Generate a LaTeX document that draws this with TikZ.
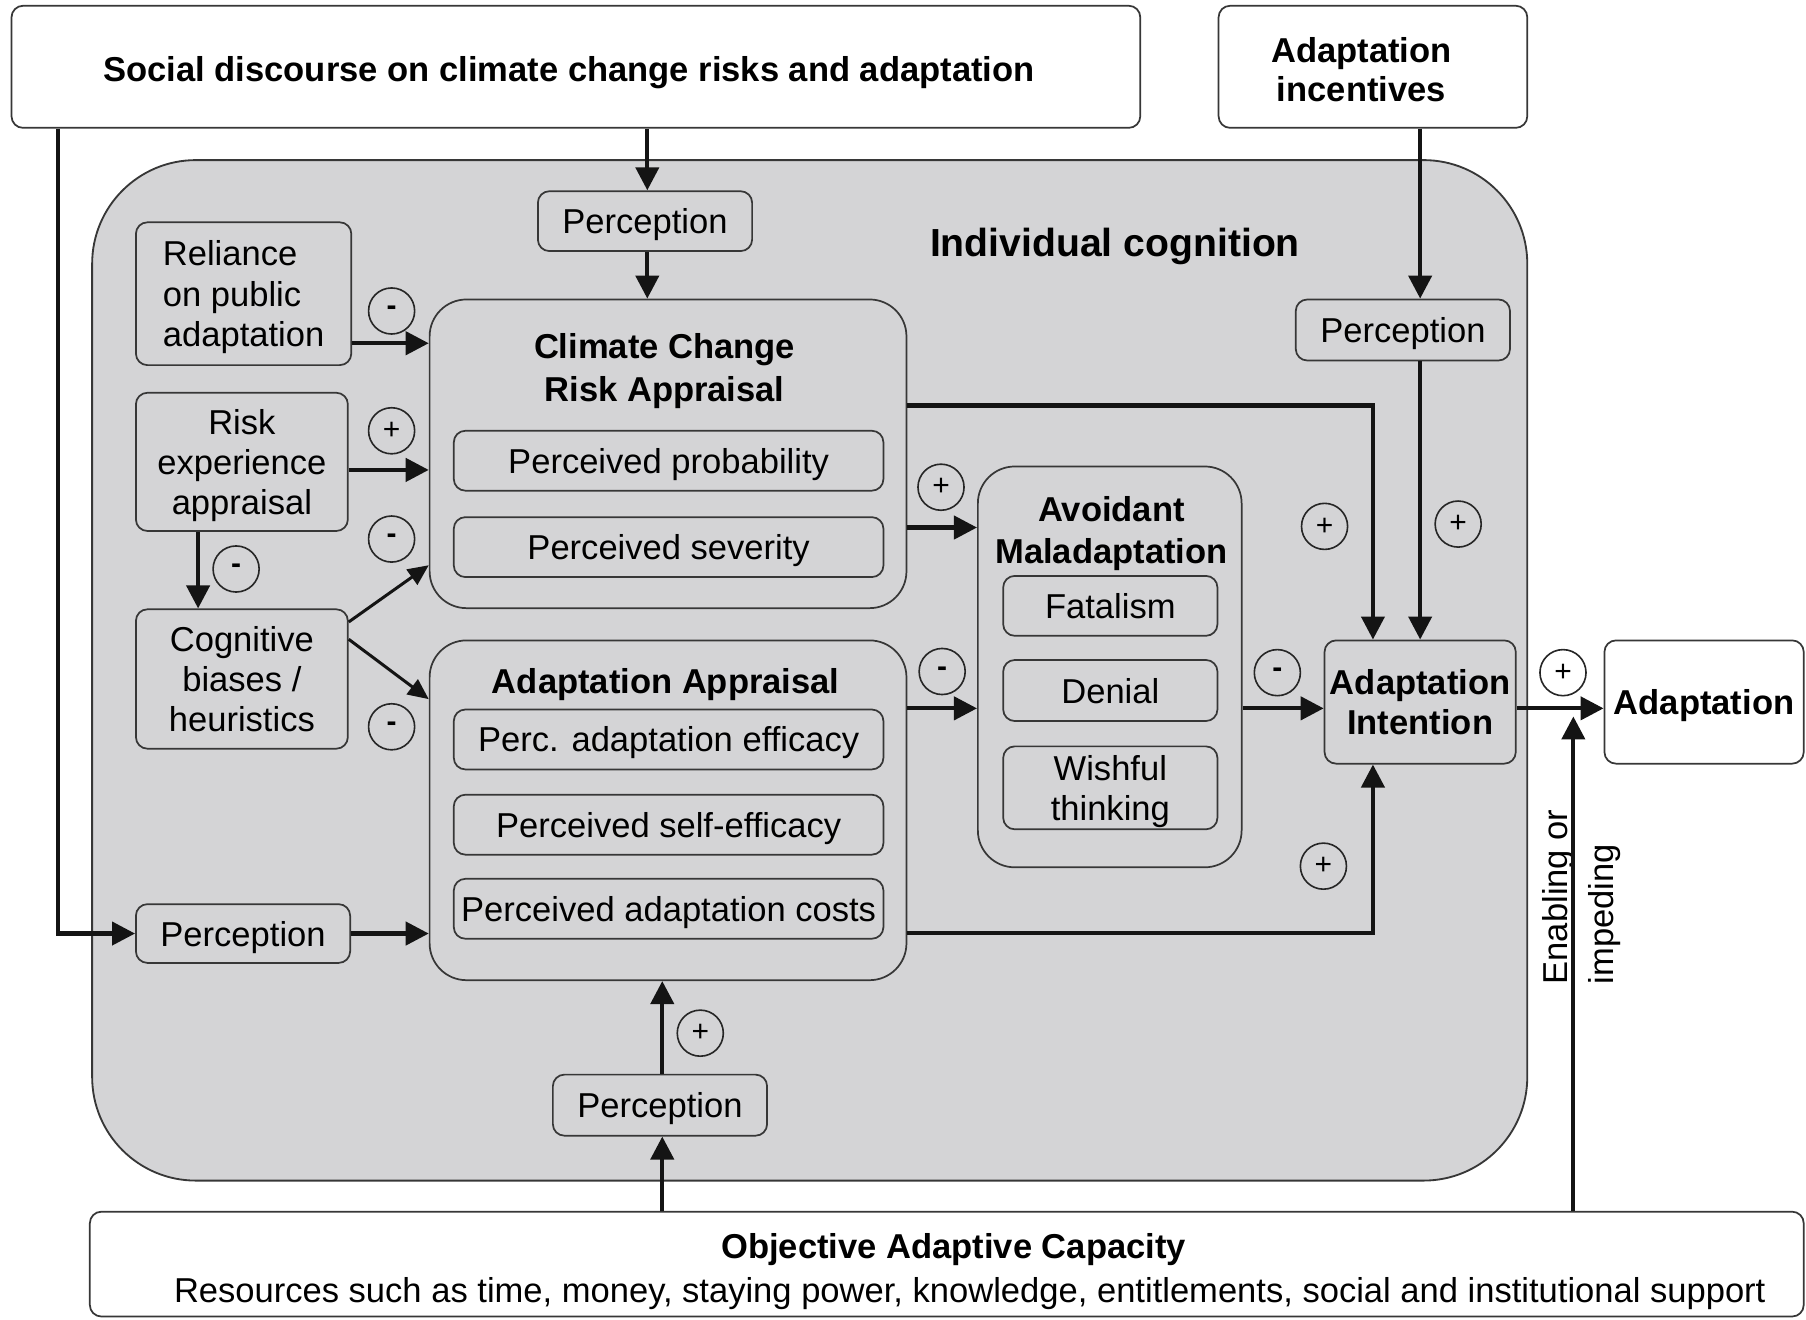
\documentclass[tikz,border=0pt]{standalone}
\usepackage{fontspec}
\setmainfont{Liberation Sans}
\usetikzlibrary{arrows.meta,calc}
\definecolor{cog}{RGB}{212,212,214}
\definecolor{edge}{RGB}{55,55,55}
\begin{document}
\begin{tikzpicture}[x=0.5pt,y=-0.5pt,
  every node/.style={font=\fontsize{15}{17.5}\selectfont, text depth=0pt},
  wbox/.style={draw=edge, line width=0.75pt, fill=white, rounded corners=5pt, inner sep=0, align=center},
  gbox/.style={draw=edge, line width=0.75pt, fill=cog, rounded corners=5pt, inner sep=0, align=center},
  midbox/.style={draw=edge, line width=0.75pt, fill=cog, rounded corners=16pt, inner sep=0},
  bigbox/.style={draw=edge, line width=0.8pt, fill=cog, rounded corners=45pt, inner sep=0},
  ttl/.style={font=\fontsize{15}{19}\bfseries\selectfont, align=center, inner sep=0},
  arr/.style={line width=1.8pt, draw=black!92, -{Triangle[length=10pt,width=10pt]}},
  tarr/.style={line width=1.3pt, draw=black!92, -{Triangle[length=9pt,width=8pt]}},
  ln/.style={line width=1.8pt, draw=black!92},
  sgn/.style={circle, draw=black!85, line width=0.7pt, minimum size=20pt, inner sep=0, font=\fontsize{13}{13}\selectfont},
]
\useasboundingbox (0,0) rectangle (1568,1146);

% outer boxes
\node[wbox, minimum width=490pt, minimum height=53pt] (social) at (500,58) {};
\node[ttl] (socialT) at (494,60) {Social discourse on climate change risks and adaptation};
\node[wbox, minimum width=134pt, minimum height=53pt] (incent) at (1192,58) {};
\node[ttl, font=\fontsize{15}{17}\bfseries\selectfont] (incentT) at (1182,60) {Adaptation\\incentives};

\node[bigbox, minimum width=623pt, minimum height=443pt] (cog) at (703,582) {};
\node[ttl, font=\fontsize{17}{20}\bfseries\selectfont] (cogT) at (968,210) {Individual cognition};

\node[wbox, minimum width=744pt, minimum height=45.5pt] (oac) at (822,1097.5) {};
\node[ttl] (oacT) at (828,1082) {Objective Adaptive Capacity};
\node[inner sep=0] (oacS) at (842,1120) {Resources such as time, money, staying power, knowledge, entitlements, social and institutional support};

% left column
\node[gbox, minimum width=93pt, minimum height=26pt] (pTop) at (560,192) {Perception};
\node[gbox, minimum width=93.5pt, minimum height=62pt, align=left] (rel) at (211.5,255) {Reliance\\on public\\adaptation};
\node[gbox, minimum width=92pt, minimum height=60pt] (risk) at (210,401) {Risk\\experience\\appraisal};
\node[gbox, minimum width=92pt, minimum height=60.5pt] (bias) at (210,589.5) {Cognitive\\biases /\\heuristics};
\node[gbox, minimum width=93pt, minimum height=25.5pt] (pLeft) at (211,810.5) {Perception};

% CCRA
\node[midbox, minimum width=207pt, minimum height=134pt] (ccra) at (580,394) {};
\node[ttl] (ccraT) at (577,319) {Climate Change\\Risk Appraisal};
\node[gbox, minimum width=186.5pt, minimum height=26pt] (prob) at (580.5,400) {Perceived probability};
\node[gbox, minimum width=186.5pt, minimum height=26pt] (sev) at (580.5,475) {Perceived severity};

% AA
\node[midbox, minimum width=207pt, minimum height=147.5pt] (aa) at (580,703.5) {};
\node[ttl] (aaT) at (578,591) {Adaptation Appraisal};
\node[gbox, minimum width=186.5pt, minimum height=26pt] (eff) at (580.5,642) {Perc. adaptation efficacy};
\node[gbox, minimum width=186.5pt, minimum height=26pt] (self) at (580.5,716) {Perceived self-efficacy};
\node[gbox, minimum width=186.5pt, minimum height=26pt] (cost) at (580.5,789) {Perceived adaptation costs};

% Avoidant
\node[midbox, minimum width=114.5pt, minimum height=174pt] (avoid) at (963.5,579) {};
\node[ttl, font=\fontsize{15}{18}\bfseries\selectfont] (avoidT) at (965,460) {Avoidant\\Maladaptation};
\node[gbox, minimum width=93pt, minimum height=26pt] (fatal) at (964,526) {Fatalism};
\node[gbox, minimum width=93pt, minimum height=26.5pt] (denial) at (964,599.5) {Denial};
\node[gbox, minimum width=93pt, minimum height=36pt] (wish) at (964,684) {Wishful\\thinking};

% right side
\node[gbox, minimum width=93pt, minimum height=26.5pt] (pRight) at (1218,286.5) {Perception};
\node[gbox, minimum width=83pt, minimum height=53.5pt, font=\fontsize{15}{17.5}\bfseries\selectfont] (ai) at (1233,609.5) {Adaptation\\Intention};
\node[wbox, minimum width=86.5pt, minimum height=53.5pt, font=\fontsize{15}{17.5}\bfseries\selectfont] (adapt) at (1479.5,609.5) {Adaptation};
\node[gbox, minimum width=93pt, minimum height=26.5pt] (pBot) at (573,959.5) {Perception};

\node[rotate=90, align=left, anchor=west, inner sep=0, font=\fontsize{15}{20}\selectfont] (enab) at (1370,855) {Enabling or\\impeding};

% helper coordinates
\coordinate (xL) at (50,0);
\coordinate (xS) at (562,0);
\coordinate (xB) at (172,0);
\coordinate (xC) at (1192,0);
\coordinate (xI) at (1233,0);
\coordinate (xO) at (1366,0);
\coordinate (xP) at (575,0);
\coordinate (yR) at (0,298);
\coordinate (yE) at (0,408);
\coordinate (yA) at (0,458);
\coordinate (yB) at (0,615);
\coordinate (yC) at (0,352);
\coordinate (yD) at (0,810);
\coordinate (yT) at (0,622);
\coordinate (tip) at (xO |- yT);

% connectors
\draw[arr] (social.south -| xS) -- (pTop.north -| xS);
\draw[arr] (pTop.south -| xS) -- (ccra.north -| xS);
\draw[arr] (social.south -| xL) |- (pLeft.west);
\draw[arr] (pLeft.east) -- (aa.west |- pLeft.east);
\draw[arr] (rel.east |- yR) -- (ccra.west |- yR);
\draw[arr] (risk.east |- yE) -- (ccra.west |- yE);
\draw[arr] (risk.south -| xB) -- (bias.north -| xB);
\draw[tarr] ([yshift=24.75pt]bias.east) -- ([yshift=19pt]ccra.south west);
\draw[tarr] ([yshift=17.25pt]bias.east) -- ([yshift=48.25pt]aa.west);
\draw[arr] (ccra.east |- yA) -- (avoid.west |- yA);
\draw[arr] (aa.east |- yB) -- (avoid.west |- yB);
\draw[arr] (ccra.east |- yC) -| (ai.north -| xC);
\draw[arr] (incent.south -| xI) -- (pRight.north -| xI);
\draw[arr] (pRight.south -| xI) -- (ai.north -| xI);
\draw[arr] (avoid.east |- yB) -- (ai.west |- yB);
\draw[arr] (aa.east |- yD) -| (ai.south -| xC);
\draw[arr] (ai.east |- yB) -- (adapt.west |- yB);
\draw[arr] (oac.north -| xO) -- (tip);
\draw[arr] (oac.north -| xP) -- (pBot.south -| xP);
\draw[arr] (pBot.north -| xP) -- (aa.south -| xP);

% signs
\node[sgn] (s1) at (340,270) {\textbf{-}};
\node[sgn] (s2) at (340,374) {+};
\node[sgn] (s3) at (340,468) {\textbf{-}};
\node[sgn] (s4) at (205,494) {\textbf{-}};
\node[sgn] (s5) at (340,631) {\textbf{-}};
\node[sgn] (s6) at (817,423) {+};
\node[sgn] (s7) at (818,583) {\textbf{-}};
\node[sgn] (s8) at (1150,457) {+};
\node[sgn] (s9) at (1266,455) {+};
\node[sgn] (s10) at (1109,584) {\textbf{-}};
\node[sgn] (s11) at (1357,584) {+};
\node[sgn] (s12) at (1149,752) {+};
\node[sgn] (s13) at (608,897) {+};
\end{tikzpicture}
\end{document}
